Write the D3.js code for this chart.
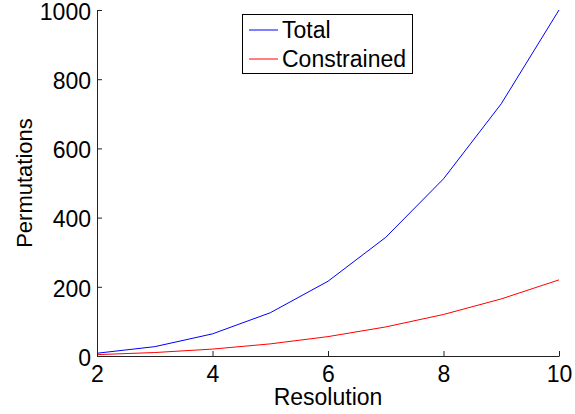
<!DOCTYPE html>
<html><head><meta charset="utf-8">
<script src="https://cdn.jsdelivr.net/npm/d3@7"></script>
<style>body{margin:0;background:#fff}svg{display:block}text{font-family:"Liberation Sans",Arial,sans-serif}</style>
</head><body><svg id="c" width="575" height="414"></svg>
<script>
const resolution = [2,3,4,5,6,7,8,9,10];
const total = [8,27,64,125,216,343,512,729,1000];
const constrained = [4,10,20,35,56,84,120,165,220];
const xTicks = [2,4,6,8,10];
const yTicks = [0,200,400,600,800,1000];
const seriesNames = ["Total","Constrained"];
const colors = ["#0000ff","#ff0000"];

const svg = d3.select("#c");
const L=97, R=559, T=10, B=356;
const x = d3.scaleLinear().domain([2,10]).range([L,R]);
const y = d3.scaleLinear().domain([0,1000]).range([B,T]);
const fs = 23;

const line = d3.line().x((d,i)=>x(resolution[i])).y(d=>y(d));
[total,constrained].forEach((s,k)=>{
  svg.append("path").attr("d",line(s)).attr("fill","none").attr("stroke",colors[k]).attr("stroke-width",1);
});

const xa = svg.append("g").attr("transform",`translate(0,${B})`)
  .call(d3.axisBottom(x).tickValues(xTicks).tickFormat(d3.format("d")).tickSize(-5).tickSizeOuter(0).tickPadding(10));
const ya = svg.append("g").attr("transform",`translate(${L},0)`)
  .call(d3.axisLeft(y).tickValues(yTicks).tickFormat(d3.format("d")).tickSize(-5).tickSizeOuter(0).tickPadding(6));
[xa,ya].forEach(a=>{
  a.select(".domain").attr("stroke","#222");
  a.selectAll(".tick line").attr("stroke","#222");
  a.selectAll(".tick text").attr("font-size",fs).attr("fill","#000").attr("font-family",'"Liberation Sans",Arial,sans-serif');
});
xa.selectAll(".tick text").attr("dy","0.71em");
ya.selectAll(".tick text").attr("dy","0.4em");

svg.append("text").attr("x",(L+R)/2).attr("y",405).attr("text-anchor","middle").attr("font-size",fs).text("Resolution");
svg.append("text").attr("transform",`translate(32,${(T+B)/2}) rotate(-90)`).attr("text-anchor","middle").attr("font-size",22).text("Permutations");

const lg = svg.append("g");
lg.append("rect").attr("x",242.5).attr("y",14.5).attr("width",170).attr("height",59).attr("fill","#fff").attr("stroke","#000");
seriesNames.forEach((n,i)=>{
  const yy = 30 + i*29;
  lg.append("line").attr("x1",249).attr("x2",278).attr("y1",yy).attr("y2",yy).attr("stroke",colors[i]);
  lg.append("text").attr("x",282).attr("y",yy).attr("dy","0.35em").attr("font-size",fs).text(n);
});
</script></body></html>
